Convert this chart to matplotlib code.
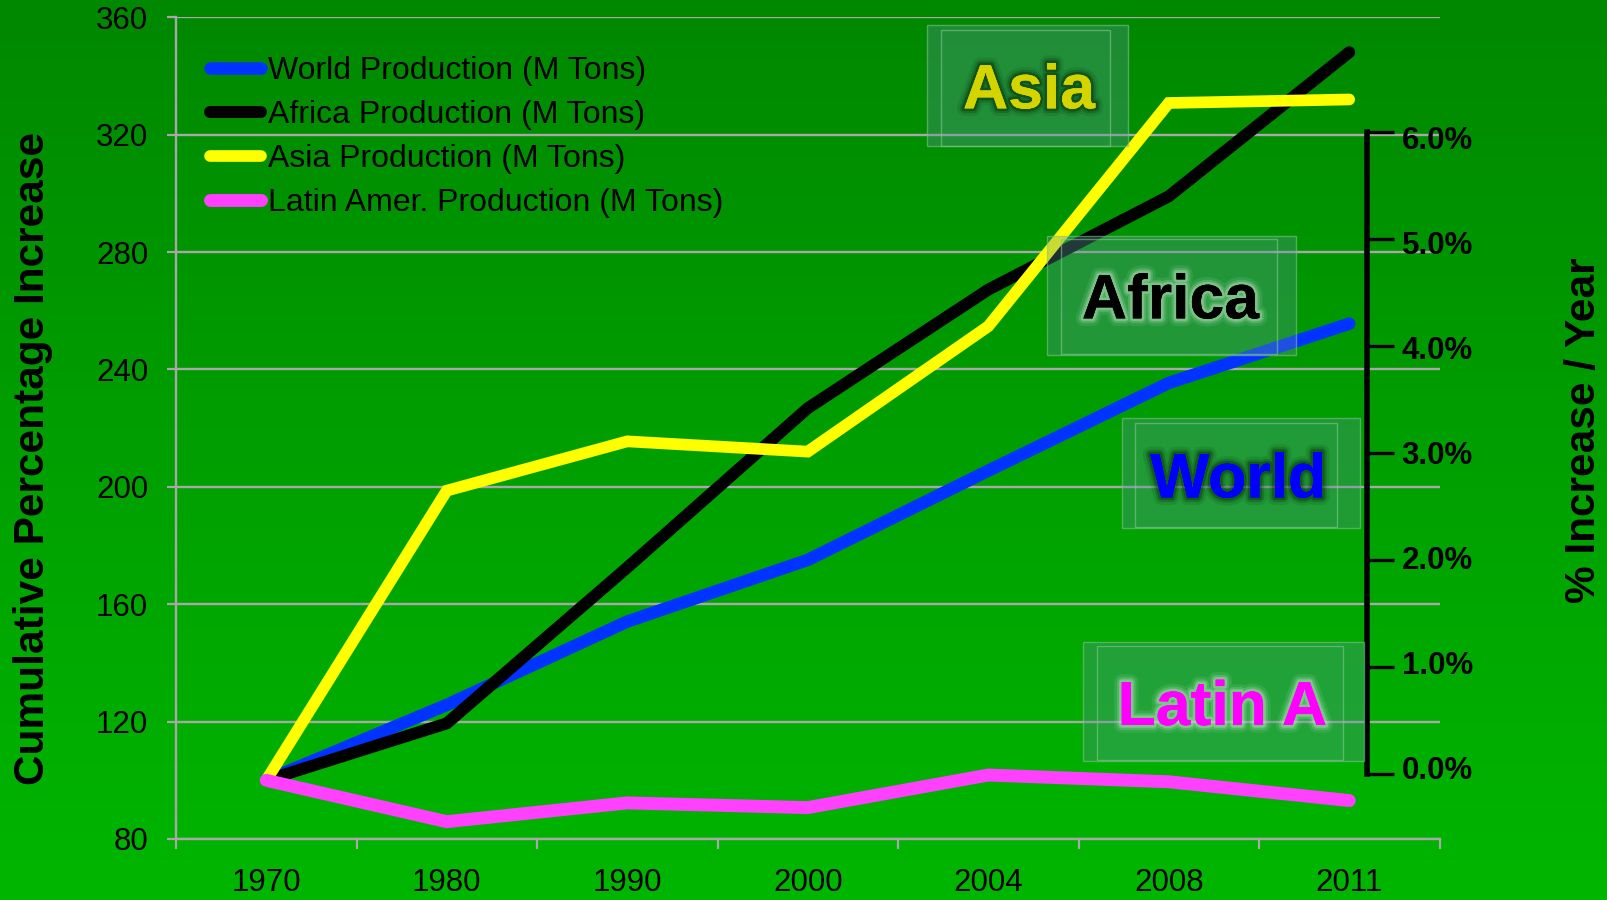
import matplotlib
matplotlib.use('Agg')
import matplotlib.pyplot as plt
import matplotlib.patheffects as pe
from matplotlib.patches import Rectangle
import numpy as np

# ---------------- data ----------------
years = ['1970', '1980', '1990', '2000', '2004', '2008', '2011']
world = [100, 125.7, 154.1, 175.1, 205.5, 235.4, 255.6]
africa = [100, 119.4, 172.5, 226.8, 267.2, 299.0, 348.1]
asia = [100, 198.7, 215.5, 212.0, 254.7, 330.8, 332.0]
latin = [100, 85.9, 92.3, 90.7, 101.8, 99.5, 93.1]
series_labels = ['World Production (M Tons)', 'Africa Production (M Tons)',
                 'Asia Production (M Tons)', 'Latin Amer. Production (M Tons)']
left_ticks = [80, 120, 160, 200, 240, 280, 320, 360]
right_ticks = [0.0, 0.01, 0.02, 0.03, 0.04, 0.05, 0.06]
right_tick_labels = ['0.0%', '1.0%', '2.0%', '3.0%', '4.0%', '5.0%', '6.0%']
box_labels = ['Asia', 'Africa', 'World', 'Latin A']
left_title = 'Cumulative Percentage Increase'
right_title = '% Increase / Year'

plt.rcParams['font.family'] = ['Liberation Sans', 'DejaVu Sans']

W, H = 1607, 900
fig = plt.figure(figsize=(W / 100, H / 100), dpi=100)


def fx(px):
    return px / W


def fy(py):
    return 1 - py / H


# background gradient
bg = fig.add_axes([0, 0, 1, 1], zorder=-10)
g = np.linspace(0, 1, 256)[:, None, None]
top = np.array([0, 136, 0]) / 255
bot = np.array([0, 182, 0]) / 255
img = top[None, None, :] * (1 - g) + bot[None, None, :] * g
img = np.repeat(img, 4, axis=1)
bg.imshow(img, aspect='auto', extent=[0, 1, 0, 1], origin='upper')
bg.set_axis_off()

# main axes
x0, x1 = 176, 1439.5
ytop, ybot = 17.3, 839
ax = fig.add_axes([fx(x0), fy(ybot), (x1 - x0) / W, (ybot - ytop) / H])
ax.patch.set_alpha(0)
x = np.arange(len(years))
ax.set_xlim(-0.5, len(years) - 0.5)
ax.set_ylim(80, 360)
gray = '#a8a8a8'
ax.set_yticks(left_ticks)
ax.yaxis.grid(True, color=gray, lw=1.7)
ax.set_axisbelow(True)
for s in ['top', 'right']:
    ax.spines[s].set_visible(False)
for s in ['left', 'bottom']:
    ax.spines[s].set_color(gray)
    ax.spines[s].set_linewidth(1.7)
ax.set_xticks(x)
ax.set_xticklabels(years)
ax.set_xticks(np.arange(-0.5, len(years)), minor=True)
ax.tick_params(axis='x', which='major', length=0, pad=21, labelsize=22.5)
ax.tick_params(axis='x', which='minor', length=7.2, width=1.6, color=gray, direction='out')
ax.tick_params(axis='y', length=6.5, width=1.6, color=gray, pad=13.5, labelsize=22.5)

colors = ['#0033ff', '#000000', '#ffff00', '#ff40ff']
widths = [9, 8.6, 8.4, 9.3]
for vals, c, lw, lab in zip([world, africa, asia, latin], colors, widths, series_labels):
    ax.plot(x, vals, color=c, lw=lw, solid_capstyle='round', solid_joinstyle='miter',
            label=lab, zorder=3)

leg = ax.legend(loc='upper left', bbox_to_anchor=(fx(210), fy(56)),
                bbox_transform=fig.transFigure, frameon=False, fontsize=23,
                handlelength=1.6, handletextpad=0.2, labelspacing=0.44,
                borderaxespad=0, borderpad=0)

# right axis (ticks)
ax2 = fig.add_axes([fx(1300), fy(774), (1367 - 1300) / W, (774 - 132) / H])
ax2.patch.set_alpha(0)
ax2.set_ylim(0, 0.06)
for s in ['top', 'left', 'bottom']:
    ax2.spines[s].set_visible(False)
ax2.spines['right'].set_linewidth(4)
ax2.spines['right'].set_color('black')
ax2.set_xticks([])
ax2.yaxis.tick_right()
ax2.set_yticks(right_ticks)
ax2.set_yticklabels([])
ax2.tick_params(axis='y', length=19.4, width=2.4, color='black', direction='out')

# right axis (labels, slightly tighter spacing as in the original)
ax3 = fig.add_axes([fx(1300), fy(767.5), (1367 - 1300) / W, (767.5 - 137.5) / H])
ax3.set_ylim(0, 0.06)
ax3.patch.set_alpha(0)
for s in ax3.spines.values():
    s.set_visible(False)
ax3.set_xticks([])
ax3.yaxis.tick_right()
ax3.set_yticks(right_ticks)
ax3.set_yticklabels(right_tick_labels, fontweight='bold')
ax3.tick_params(axis='y', length=0, pad=19.4 + 5.5, labelsize=22.5)

fig.text(fx(33.5), fy(458), left_title, rotation=90, ha='center', va='center',
         fontsize=30.5, fontweight='bold')
fig.text(fx(1584), fy(430), right_title, rotation=90, ha='center', va='center',
         fontsize=30.5, fontweight='bold')

# label boxes
boxes = [
    ((927, 25, 1128, 146), (940.6, 30, 1109.5, 145.5), (1029, 108.3), '#d4d400', 'dark'),
    ((1046.7, 235.7, 1295.7, 355), (1060.7, 239, 1276.7, 354), (1170.5, 318.3), '#000000', 'light'),
    ((1121.7, 418.3, 1360, 528.3), (1135.3, 422.7, 1336.7, 527.3), (1238.3, 497.3), '#0000ff', 'dark'),
    ((1083.3, 641.7, 1364, 761), (1097.3, 645.7, 1343.3, 760), (1222.3, 725), '#ff00ff', 'light'),
]
for lab, (outer, inner, tpos, tc, glow) in zip(box_labels, boxes):
    ox0, oy0, ox1, oy1 = outer
    fig.patches.append(Rectangle((fx(ox0), fy(oy1)), (ox1 - ox0) / W, (oy1 - oy0) / H,
                                 transform=fig.transFigure, facecolor=(0.36, 0.56, 0.62, 0.33),
                                 edgecolor=(0.5, 0.75, 0.55, 0.6), lw=1, zorder=5))
    ix0, iy0, ix1, iy1 = inner
    fig.patches.append(Rectangle((fx(ix0), fy(iy1)), (ix1 - ix0) / W, (iy1 - iy0) / H,
                                 transform=fig.transFigure, facecolor=(0.3, 0.7, 0.45, 0.08),
                                 edgecolor=(0.5, 0.78, 0.55, 0.6), lw=1, zorder=5))
    if glow == 'dark':
        gc = (0.0, 0.1, 0.0)
    else:
        gc = (0.85, 0.95, 0.85)
    effects = [pe.withStroke(linewidth=11, foreground=gc, alpha=0.10),
               pe.withStroke(linewidth=7, foreground=gc, alpha=0.18),
               pe.withStroke(linewidth=4, foreground=gc, alpha=0.3),
               pe.Normal()]
    fig.text(fx(tpos[0]), fy(tpos[1]), lab, ha='center', va='baseline', fontsize=45,
             fontweight='bold', color=tc, zorder=6, path_effects=effects)

fig.savefig('out.png', dpi=100)
